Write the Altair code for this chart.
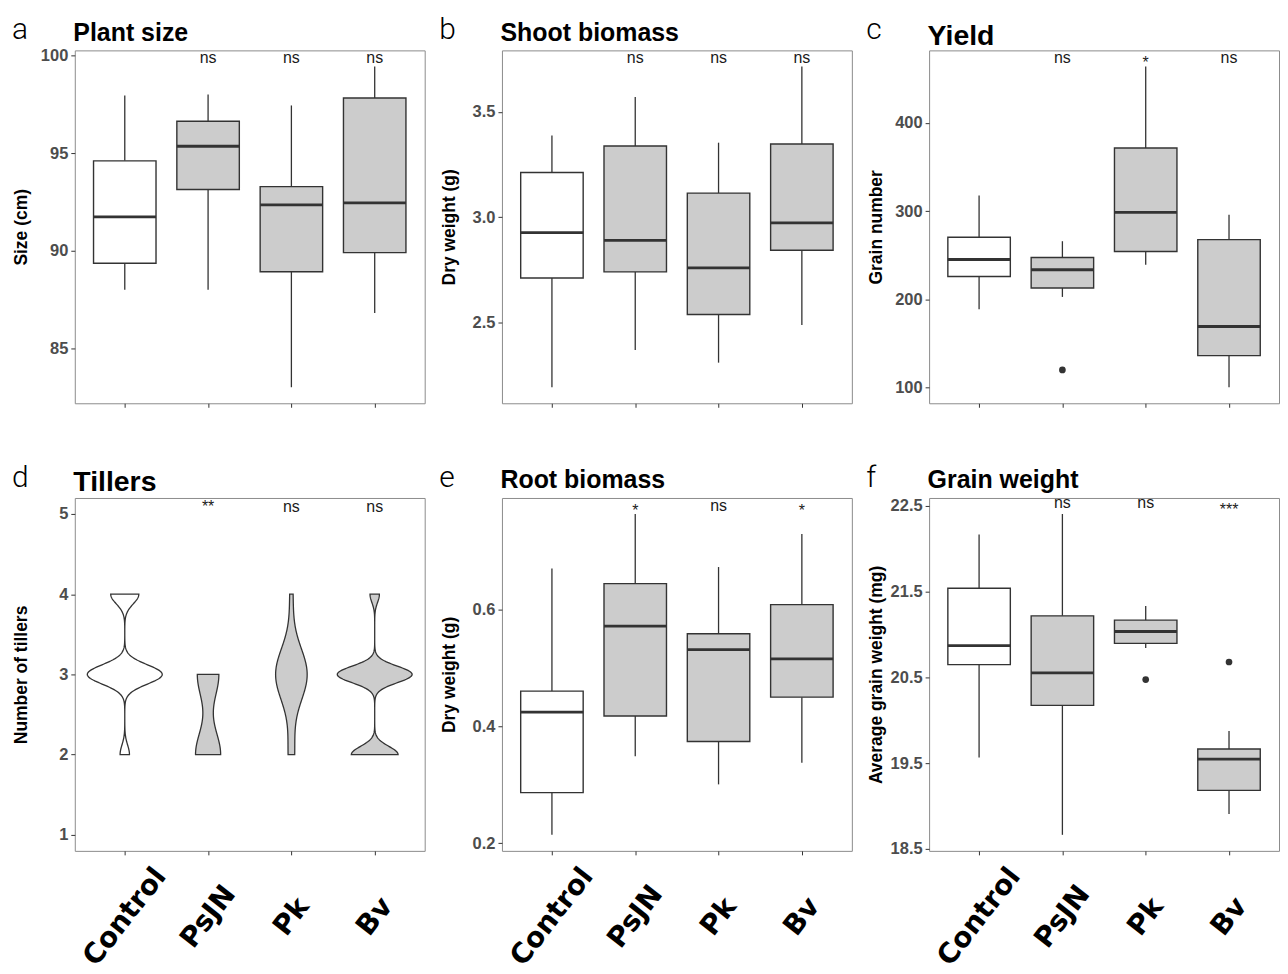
import json
import altair as alt
import pandas as pd

CATEGORIES = ["Control", "PsJN", "Pk", "Bv"]

# ---- box-plot summaries (lower whisker, Q1, median, Q3, upper whisker)
SIZE_LOWER = [88.0, 88.0, 83.0, 86.8]
SIZE_Q1 = [89.35, 93.13, 88.92, 89.9]
SIZE_MEDIAN = [91.73, 95.35, 92.35, 92.45]
SIZE_Q3 = [94.6, 96.63, 93.28, 97.82]
SIZE_UPPER = [97.95, 98.0, 97.44, 99.44]
SIZE_OUTLIER_GROUP = []
SIZE_OUTLIER_VALUE = []
SIZE_SIG = ["", "ns", "ns", "ns"]

SHOOT_LOWER = [2.19, 2.367, 2.307, 2.486]
SHOOT_Q1 = [2.71, 2.739, 2.536, 2.842]
SHOOT_MEDIAN = [2.926, 2.889, 2.758, 2.972]
SHOOT_Q3 = [3.212, 3.338, 3.114, 3.348]
SHOOT_UPPER = [3.388, 3.571, 3.354, 3.717]
SHOOT_OUTLIER_GROUP = []
SHOOT_OUTLIER_VALUE = []
SHOOT_SIG = ["", "ns", "ns", "ns"]

YIELD_LOWER = [188.7, 202.7, 239.1, 100.4]
YIELD_Q1 = [225.9, 212.8, 254.1, 136.2]
YIELD_MEDIAN = [245.1, 233.5, 298.5, 169.2]
YIELD_Q3 = [270.3, 247.4, 371.4, 267.6]
YIELD_UPPER = [317.7, 265.8, 463.8, 295.9]
YIELD_OUTLIER_GROUP = ["PsJN"]
YIELD_OUTLIER_VALUE = [120.0]
YIELD_SIG = ["", "ns", "*", "ns"]

ROOT_LOWER = [0.2143, 0.3492, 0.3008, 0.3377]
ROOT_Q1 = [0.2866, 0.4179, 0.3742, 0.4503]
ROOT_MEDIAN = [0.4248, 0.5722, 0.5317, 0.5158]
ROOT_Q3 = [0.4606, 0.6449, 0.559, 0.609]
ROOT_UPPER = [0.671, 0.7643, 0.6734, 0.7302]
ROOT_OUTLIER_GROUP = []
ROOT_OUTLIER_VALUE = []
ROOT_SIG = ["", "*", "ns", "*"]

GRAIN_LOWER = [19.565, 18.665, 20.841, 18.908]
GRAIN_Q1 = [20.647, 20.172, 20.894, 19.183]
GRAIN_MEDIAN = [20.868, 20.551, 21.033, 19.546]
GRAIN_Q3 = [21.537, 21.215, 21.165, 19.665]
GRAIN_UPPER = [22.163, 22.401, 21.331, 19.874]
GRAIN_OUTLIER_GROUP = ["Pk", "Bv"]
GRAIN_OUTLIER_VALUE = [20.473, 20.678]
GRAIN_SIG = ["", "ns", "ns", "***"]

# ---- tiller counts per plant (raw observations for the violins)
TILLERS_CONTROL = [2, 3, 3, 3, 3, 3, 3, 3, 3, 4, 4, 4]
TILLERS_PSJN = [2, 2, 2, 2, 2, 2, 2, 3, 3, 3, 3, 3, 3]
TILLERS_PK = [2, 2, 3, 3, 3, 3, 3, 3, 3, 3, 3, 3, 4]
TILLERS_BV = [2, 2, 2, 2, 2, 3, 3, 3, 3, 3, 3, 3, 3, 4]
TILLERS_BANDWIDTH = [0.12, 0.29, 0.33, 0.103]
TILLERS_SIG = ["", "**", "ns", "ns"]

# ---- styling
W, H = 351, 354
LINE = "#333333"
GREY_FILL = "#CCCCCC"
BOX_HALF = 0.375
VIOLIN_SCALE = 0.203
XSCALE = alt.Scale(domain=[0.4, 4.6], nice=False, zero=False)
LABEL_EXPR = json.dumps(CATEGORIES) + "[datum.value - 1]"
IDX = {c: i + 1 for i, c in enumerate(CATEGORIES)}


def x_axis(bottom):
    if bottom:
        return alt.Axis(values=[1, 2, 3, 4], title=None, labelExpr=LABEL_EXPR,
                        labelAngle=-52, labelAlign="center", labelBaseline="middle",
                        labelPadding=62, labelFont="DejaVu Sans", labelFontSize=28,
                        labelFontWeight="bold", labelColor="black", labelFlush=False,
                        labelOverlap=False, labelBound=False)
    return alt.Axis(values=[1, 2, 3, 4], title=None, labels=False)


def y_axis(title, ticks, fmt):
    return alt.Axis(values=ticks, format=fmt, title=title, titleX=-53, titleY=H / 2,
                    titleAngle=-90, titleAlign="center", titleBaseline="middle",
                    labelPadding=3)


def y_domain(values):
    lo, hi = min(values), max(values)
    pad = (hi - lo) * 0.05
    return [lo - pad, hi + pad]


def fill_cond():
    return alt.condition(alt.datum.treatment == "Control", alt.value("white"),
                         alt.value(GREY_FILL))


def header_layers(letter, title, title_size, title_y):
    lt = alt.Chart(pd.DataFrame({"t": [letter]})).mark_text(
        align="left", baseline="alphabetic", font="Roboto", fontSize=30,
        fontWeight=300, color="black").encode(text="t:N", x=alt.value(-63), y=alt.value(-11))
    tt = alt.Chart(pd.DataFrame({"t": [title]})).mark_text(
        align="left", baseline="alphabetic", font="Liberation Sans", fontSize=title_size,
        fontWeight="bold", color="black").encode(text="t:N", x=alt.value(-1.5), y=alt.value(title_y))
    return [lt, tt]


def sig_layers(sig, ns_y, star_y):
    df = pd.DataFrame({"treatment": CATEGORIES, "idx": [1, 2, 3, 4], "label": sig})
    base = alt.Chart(df).mark_text(font="Liberation Sans", fontSize=16, color="#1A1A1A",
                                   baseline="alphabetic")
    ns = base.transform_filter(alt.datum.label == "ns").encode(
        x=alt.X("idx:Q", scale=XSCALE), y=alt.value(ns_y), text="label:N")
    st = base.transform_filter("datum.label != 'ns' && datum.label != ''").encode(
        x=alt.X("idx:Q", scale=XSCALE), y=alt.value(star_y), text="label:N")
    return [ns, st]


def box_panel(letter, title, title_size, title_y, ytitle, lower, q1, med, q3, upper,
              out_group, out_value, sig, ticks, fmt, bottom, ns_y, star_y, anchor=False):
    df = pd.DataFrame({"treatment": CATEGORIES, "idx": [1, 2, 3, 4], "lower": lower,
                       "q1": q1, "median": med, "q3": q3, "upper": upper})
    ys = alt.Scale(domain=y_domain(lower + upper + out_value), nice=False, zero=False)
    xa = x_axis(bottom)
    ya = y_axis(ytitle, ticks, fmt)

    def X(f):
        return alt.X(f, scale=XSCALE, axis=xa)

    def Y(f):
        return alt.Y(f, scale=ys, axis=ya)

    base = alt.Chart(df).transform_calculate(
        xl=f"datum.idx - {BOX_HALF}", xr=f"datum.idx + {BOX_HALF}")
    w_lo = base.mark_rule(color=LINE, strokeWidth=1.3).encode(
        x=X("idx:Q"), y=Y("lower:Q"), y2="q1:Q")
    w_hi = base.mark_rule(color=LINE, strokeWidth=1.3).encode(
        x=X("idx:Q"), y=Y("q3:Q"), y2="upper:Q")
    box = base.mark_rect(stroke=LINE, strokeWidth=1.4).encode(
        x=X("xl:Q"), x2="xr:Q", y=Y("q1:Q"), y2="q3:Q", fill=fill_cond())
    mline = base.mark_rule(color=LINE, strokeWidth=2.8).encode(
        x=X("xl:Q"), x2="xr:Q", y=Y("median:Q"))
    layers = [w_lo, w_hi, box, mline]
    if out_group:
        odf = pd.DataFrame({"treatment": out_group, "value": out_value})
        odf["idx"] = odf.treatment.map(IDX)
        layers.append(alt.Chart(odf).mark_circle(size=45, color=LINE, opacity=1).encode(
            x=X("idx:Q"), y=Y("value:Q")))
    layers += sig_layers(sig, ns_y, star_y)
    layers += header_layers(letter, title, title_size, title_y)
    if anchor:
        layers.append(alt.Chart(pd.DataFrame({"a": [0]})).mark_rule(
            strokeOpacity=0, color="white").encode(
            x=alt.value(-66), x2=alt.value(-60), y=alt.value(-40)))
    return alt.layer(*layers).properties(width=W, height=H)


def violin_panel():
    groups = [TILLERS_CONTROL, TILLERS_PSJN, TILLERS_PK, TILLERS_BV]
    rows = []
    for cat, vals in zip(CATEGORIES, groups):
        for v in vals:
            rows.append({"treatment": cat, "idx": IDX[cat], "tillers": v})
    df = pd.DataFrame(rows)
    ys = alt.Scale(domain=[0.8, 5.2], nice=False, zero=False)
    xa = x_axis(True)
    ya = y_axis("Number of tillers", [1, 2, 3, 4, 5], "d")
    layers = []
    for cat, bw in zip(CATEGORIES, TILLERS_BANDWIDTH):
        fill = "white" if cat == "Control" else GREY_FILL
        layer = alt.Chart(df).transform_filter(alt.datum.treatment == cat).transform_density(
            "tillers", as_=["value", "density"], bandwidth=bw, steps=200,
            groupby=["treatment", "idx"]).transform_calculate(
            lo=f"datum.idx - datum.density * {VIOLIN_SCALE}",
            hi=f"datum.idx + datum.density * {VIOLIN_SCALE}").mark_area(
            orient="horizontal", fill=fill, stroke=LINE, strokeWidth=1.3).encode(
            y=alt.Y("value:Q", scale=ys, axis=ya),
            x=alt.X("lo:Q", scale=XSCALE, axis=xa),
            x2="hi:Q")
        layers.append(layer)
    layers += sig_layers(TILLERS_SIG, 14, 13.6)
    layers += header_layers("d", "Tillers", 28.5, -6.7)
    return alt.layer(*layers).properties(width=W, height=H)


pa = box_panel("a", "Plant size", 25, -9, "Size (cm)", SIZE_LOWER, SIZE_Q1, SIZE_MEDIAN,
               SIZE_Q3, SIZE_UPPER, SIZE_OUTLIER_GROUP, SIZE_OUTLIER_VALUE, SIZE_SIG,
               [85, 90, 95, 100], "d", False, 13, 17, anchor=True)
pb = box_panel("b", "Shoot biomass", 25, -9, "Dry weight (g)", SHOOT_LOWER, SHOOT_Q1,
               SHOOT_MEDIAN, SHOOT_Q3, SHOOT_UPPER, SHOOT_OUTLIER_GROUP, SHOOT_OUTLIER_VALUE,
               SHOOT_SIG, [2.5, 3.0, 3.5], ".1f", False, 13, 17)
pc = box_panel("c", "Yield", 28.5, -5, "Grain number", YIELD_LOWER, YIELD_Q1, YIELD_MEDIAN,
               YIELD_Q3, YIELD_UPPER, YIELD_OUTLIER_GROUP, YIELD_OUTLIER_VALUE, YIELD_SIG,
               [100, 200, 300, 400], "d", False, 13, 18)
pd_ = violin_panel()
pe = box_panel("e", "Root biomass", 25, -10, "Dry weight (g)", ROOT_LOWER, ROOT_Q1,
               ROOT_MEDIAN, ROOT_Q3, ROOT_UPPER, ROOT_OUTLIER_GROUP, ROOT_OUTLIER_VALUE,
               ROOT_SIG, [0.2, 0.4, 0.6], ".1f", True, 13, 18)
pf = box_panel("f", "Grain weight", 25, -10, "Average grain weight (mg)", GRAIN_LOWER,
               GRAIN_Q1, GRAIN_MEDIAN, GRAIN_Q3, GRAIN_UPPER, GRAIN_OUTLIER_GROUP,
               GRAIN_OUTLIER_VALUE, GRAIN_SIG, [18.5, 19.5, 20.5, 21.5, 22.5], ".1f", True,
               10.5, 17)

chart = alt.concat(pa, pb, pc, pd_, pe, pf, columns=3,
                   spacing={"row": 95, "column": 77.5}, bounds="flush").properties(
    padding=0
).configure_view(stroke="#8C8C8C", strokeWidth=1).configure_axis(
    grid=False, domain=False, tickColor=LINE, tickSize=4, tickWidth=1,
    labelFont="Liberation Sans", labelFontSize=16.5, labelFontWeight="bold",
    labelColor="#4D4D4D", titleFont="Liberation Sans", titleFontSize=17.5,
    titleFontWeight="bold", titleColor="black")

chart.save("out.html", embed_options={"renderer": "svg", "actions": False})
